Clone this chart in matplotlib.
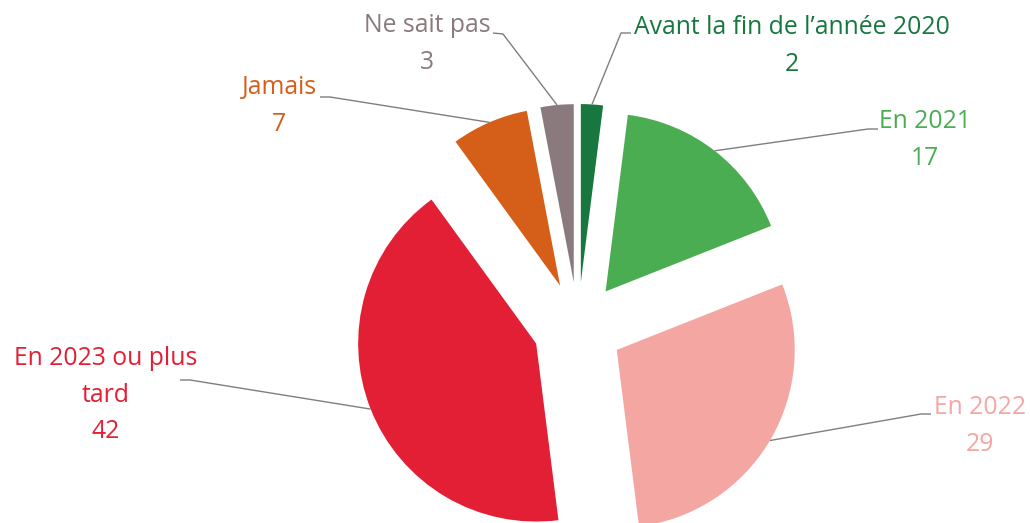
"""Exploded pie: expected timing (French labels), Excel-like styling."""

import matplotlib

matplotlib.use("Agg")

import matplotlib.pyplot as plt  # noqa: E402
import numpy as np  # noqa: E402

categories = [
    "Avant la fin de l\u2019année 2020",
    "En 2021",
    "En 2022",
    "En 2023 ou plus\ntard",
    "Jamais",
    "Ne sait pas",
]
values = [2, 17, 29, 42, 7, 3]
colors = ["#17773F", "#4BAD52", "#F4A6A2", "#E31F35", "#D55F18", "#8A7A7D"]

W, H = 1030, 523

# Label layout in screen pixels (y down): text centre, leader start, elbow.
text_pos = [(792, 46), (925, 140), (980, 426), (106, 395), (279, 106), (427, 44)]
leader_start = [(631, 33), (878, 129), (931, 414), (180, 380), (320, 97), (493, 33)]
leader_elbow = [(621, 33), (868, 129), (921, 414), (190, 380), (330, 97), (503, 34)]

plt.rcParams["font.family"] = ["Open Sans", "DejaVu Sans"]

fig = plt.figure(figsize=(W / 100, H / 100), dpi=100)
ax = fig.add_axes([0, 0, 1, 1])

# explode is in data units here (pixels), since radius is in pixels too
wedges, _ = ax.pie(
    values,
    colors=colors,
    startangle=90,
    counterclock=False,
    radius=178,
    center=(578, H - 327),
    explode=[45] * len(values),
    wedgeprops=dict(linewidth=0),
)
ax.set_xlim(0, W)
ax.set_ylim(0, H)
ax.set_aspect("equal")
ax.axis("off")

for i, w in enumerate(wedges):
    # leader ends at the middle of the slice's outer arc
    mid = np.deg2rad((w.theta1 + w.theta2) / 2)
    ex = w.center[0] + w.r * np.cos(mid)
    ey = w.center[1] + w.r * np.sin(mid)
    sx, sy = leader_start[i]
    kx, ky = leader_elbow[i]
    ax.plot([sx, kx, ex], [H - sy, H - ky, ey], color="#7F7F7F", linewidth=1.0,
            solid_capstyle="butt")
    tx, ty = text_pos[i]
    ax.text(tx, H - ty, f"{categories[i]}\n{values[i]}", ha="center", va="center",
            fontsize=17.8, color=colors[i], linespacing=1.6)

fig.savefig("out.png", dpi=100, facecolor="white")
